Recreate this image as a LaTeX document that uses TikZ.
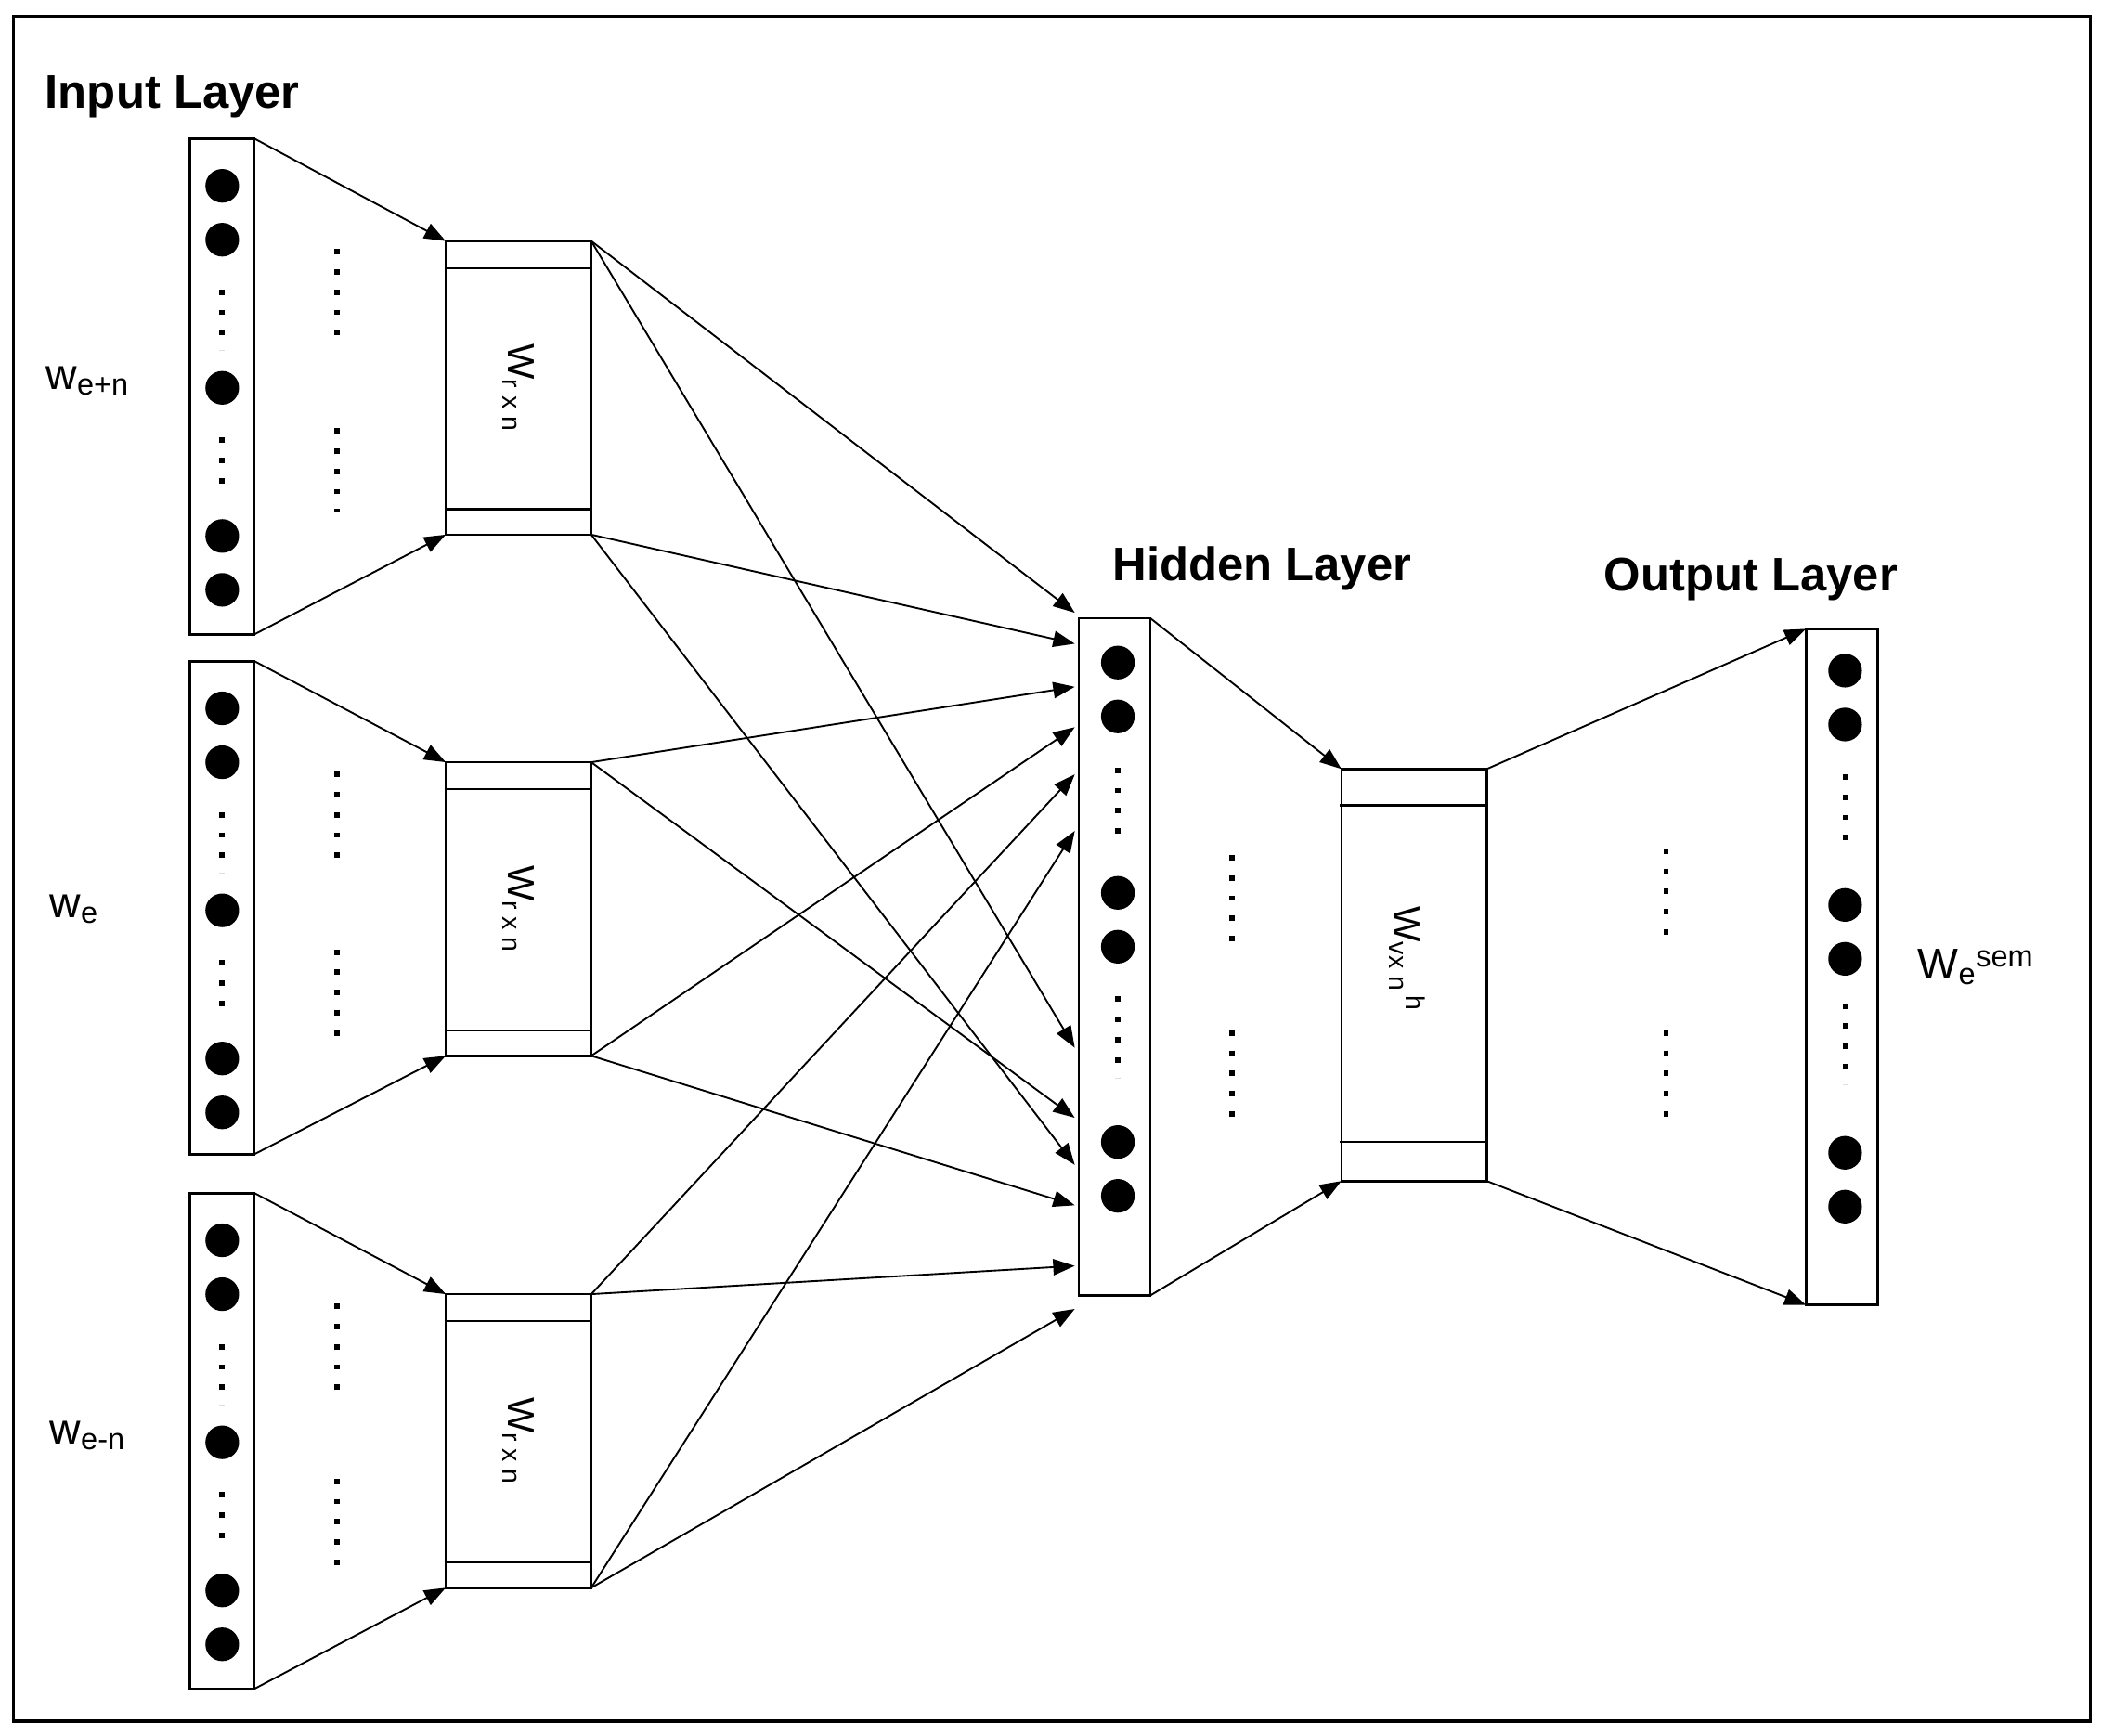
\documentclass[tikz,border=0pt]{standalone}
\usepackage{fontspec}
\setmainfont{Liberation Sans}
\usetikzlibrary{arrows.meta}
\begin{document}
\begin{tikzpicture}[x=1pt,y=-1pt,
  ln/.style={line width=1.6pt},
  arr/.style={line width=1.3pt,-{Triangle[length=16pt,width=12pt]}},
  col/.style={draw,line width=1.8pt,fill=white,outer sep=0pt},
  bx/.style={draw,line width=1.8pt,outer sep=0pt},
  dot/.style={fill=black,circle,inner sep=0pt,minimum size=25pt},
  vd/.style={line width=4pt,dash pattern=on 4pt off 11pt},
  lbl/.style={font=\fontsize{35}{38}\selectfont\bfseries},
  wl/.style={font=\fontsize{32}{36}\selectfont},
  rl/.style={rotate=-90,font=\fontsize{28}{32}\selectfont}]
\useasboundingbox (0,0) rectangle (1560,1289);
\draw[line width=2.5pt] (10,12) rectangle (1552,1278);
% input columns
\foreach \n/\t/\b in {a/102/472,b/490/858,c/885/1255}{
  \node[col,minimum width=48pt,minimum height={\b-\t-2},inner sep=0pt,anchor=north west] (in\n) at (141,\t+1) {};
}
\foreach \y in {138,178,288,398,438,526,566,676,786,826,921,961,1071,1181,1221}{\node[dot] at (165,\y) {};}
\foreach \y/\z in {215/260,325/365,603/648,713/753,998/1043,1108/1148}{\draw[vd] (165,\y)--(165,\z);}
\foreach \y/\z in {185/250,318/380,573/638,705/770,968/1033,1098/1163}{\draw[vd] (250,\y)--(250,\z);}
% weight boxes
\foreach \n/\t in {a/178,b/565,c/960}{
  \node[bx,minimum width=108pt,minimum height=218pt,inner sep=0pt,anchor=north west] (w\n) at (331,\t+1) {};
  \draw[ln] (330,\t+21)--(440,\t+21) (330,\t+200)--(440,\t+200);
  \node[rl] at (385,\t+110) {W\textsubscript{r x n}};
}
\foreach \n in {a,b,c}{
  \draw[arr] (in\n.north east) -- (w\n.north west);
  \draw[arr] (in\n.south east) -- (w\n.south west);
}
% hidden
\node[col,minimum width=53pt,minimum height=503pt,inner sep=0pt,anchor=north west] (hid) at (801,459) {};
\foreach \y in {492,532,663,703,848,888}{\node[dot] at (830,\y) {};}
\foreach \y/\z in {570/620,740/800}{\draw[vd] (830,\y)--(830,\z);}
\foreach \y/\z in {635/700,765/830}{\draw[vd] (915,\y)--(915,\z);}
\foreach \y/\z in {455/a1,478/b1,510/c1,540/d1,575/e1,617/f1,778/g1,830/h1,865/i1,895/j1,940/k1,972/l1}{\coordinate (\z) at (798,\y);}
\draw[arr] (wa.north east)--(a1); \draw[arr] (wa.north east)--(g1);
\draw[arr] (wa.south east)--(b1); \draw[arr] (wa.south east)--(i1);
\draw[arr] (wb.north east)--(c1); \draw[arr] (wb.north east)--(h1);
\draw[arr] (wb.south east)--(d1); \draw[arr] (wb.south east)--(j1);
\draw[arr] (wc.north east)--(e1); \draw[arr] (wc.north east)--(k1);
\draw[arr] (wc.south east)--(f1); \draw[arr] (wc.south east)--(l1);
% hidden weight
\node[bx,minimum width=108pt,minimum height=306pt,inner sep=0pt,anchor=north west] (wh) at (996,571) {};
\draw[ln] (995,598)--(1105,598) (995,848)--(1105,848);
\node[rl] at (1045,712) {W\textsubscript{vx n}\textsuperscript{\,h}};
\draw[arr] (hid.north east)--(wh.north west);
\draw[arr] (hid.south east)--(wh.south west);
\foreach \y/\z in {630/695,765/830}{\draw[vd] (1237,\y)--(1237,\z);}
% output
\node[col,minimum width=53pt,minimum height=502pt,inner sep=0pt,anchor=north west] (out) at (1341,467) {};
\foreach \y in {498,538,672,712,856,896}{\node[dot] at (1370,\y) {};}
\foreach \y/\z in {575/625,745/805}{\draw[vd] (1370,\y)--(1370,\z);}
\draw[arr] (wh.north east)--(out.north west);
\draw[arr] (wh.south east)--(out.south west);
% labels
\node[lbl] (l1) at (128,72) {Input Layer};
\node[lbl] (l2) at (937,422) {Hidden Layer};
\node[lbl] (l3) at (1300,430) {Output Layer};
\node[wl] (t1) at (65,283) {w\textsubscript{e+n}};
\node[wl] (t2) at (55,675) {w\textsubscript{e}};
\node[wl] (t3) at (65,1066) {w\textsubscript{e-n}};
\node[wl] (t4) at (1467,718) {W\textsubscript{e}\textsuperscript{sem}};
\end{tikzpicture}
\end{document}
